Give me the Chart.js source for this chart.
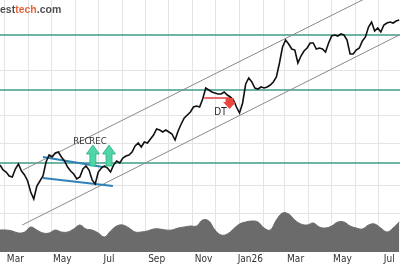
<!DOCTYPE html>
<html>
<head>
<meta charset="utf-8">
<script src="https://cdn.jsdelivr.net/npm/chart.js@4.4.1/dist/chart.umd.min.js"></script>
<style>
  html, body { margin: 0; padding: 0; background: #fff; }
  #wrap { width: 400px; height: 266px; }
</style>
</head>
<body>
<div id="wrap"><canvas id="chart"></canvas></div>
<script>
// kurs: ett punkt var 4:e dag fra seriesStart
const seriesStart = '2025-02-23';
const closeStep = 4;
const close = [
  63.5, 61, 60, 58, 57.5, 61.5, 64, 60.5, 58.5, 55.5,
  50, 46.5, 53, 55.5, 58, 65, 68.5, 67.5, 69.5, 70,
  67.5, 65.5, 62.5, 60.5, 59, 56.5, 57.5, 61.5, 63, 61,
  56, 54, 60, 62, 63, 62, 60, 63.5, 65.5, 64.5,
  67, 68, 68.5, 70, 73, 74.5, 72.5, 75, 74.5, 76.5,
  78.5, 81.5, 81, 80, 81, 80, 79, 76, 80.5, 84,
  87, 88.5, 90, 92.5, 93, 92.5, 96.5, 102, 101, 100,
  99.5, 99, 99, 100, 98.5, 97.5, 96, 92.5, 89.5, 94.5,
  104, 107, 105, 102, 101.5, 102.5, 102, 102.5, 103.5, 105,
  107.5, 114.5, 122.5, 126, 124, 121.5, 121, 114.5, 118, 120.5,
  122, 124.5, 124.5, 121.5, 122, 121.5, 120, 124.5, 128, 128.5,
  128, 129, 128.5, 126, 119, 119, 121, 122, 125.5, 127.5,
  132.5, 135, 130.5, 132, 130, 133.5, 134.5, 135, 134.5, 135.5,
  136
];

// volum (glattet), ett punkt var 8:e dag
const volStep = 8;
const volume = [
  220, 220, 210, 190, 200, 250, 220, 190, 190, 220,
  200, 200, 230, 270, 230, 220, 190, 150, 210, 260,
  270, 240, 200, 200, 210, 230, 230, 220, 220, 240,
  250, 260, 260, 320, 310, 220, 170, 180, 230, 280,
  300, 310, 300, 240, 220, 320, 390, 380, 320, 280,
  270, 290, 250, 240, 260, 300, 300, 260, 240, 230,
  270, 280, 240, 200, 240, 300
];

const tickMonths = ['2025-03', '2025-05', '2025-07', '2025-09', '2025-11', '2026-01', '2026-03', '2026-05', '2026-07'];
const tickLabels = ['Mar', 'May', 'Jul', 'Sep', 'Nov', 'Jan26', 'Mar', 'May', 'Jul'];
const gridPrices = [39.5, 53.5, 74.5, 88.5, 111];

// støtte / motstand
const levels = [128.5, 101, 64.5];

// trendkanal
const upperChannelDates = ['2025-03-25', '2026-07-28'];
const upperChannelPrices = [61, 155.25];
const lowerChannelDates = ['2025-03-24', '2026-07-28'];
const lowerChannelPrices = [33.5, 128.5];

// rektangel-formasjon
const rectTopDates = ['2025-04-20', '2025-07-07'];
const rectTopPrices = [67.5, 62.5];
const rectBottomDates = ['2025-04-20', '2025-07-20'];
const rectBottomPrices = [57, 53];

// signaler
const recDates = ['2025-06-24', '2025-07-15'];
const recPrices = [63, 63];
const dtLineDates = ['2025-11-16', '2025-12-21'];
const dtLinePrices = [97, 97];
const dtDate = '2025-12-19';
const dtPrice = 97;

const xMin = -6, xMax = 515;
const narrow = '"Liberation Sans Narrow", "DejaVu Sans Condensed", Arial, sans-serif';

function dayOf(s) {
  const p = s.split('-').map(Number);
  return (Date.UTC(p[0], p[1] - 1, p[2] || 1) - Date.UTC(2025, 2, 1)) / 86400000;
}

const start = dayOf(seriesStart);
const closePts = close.map((v, i) => ({ x: start + i * closeStep, y: v }));
const volPts = volume.map((v, i) => ({ x: start + i * volStep, y: v }));
const pairs = (d, p) => d.map((s, i) => ({ x: dayOf(s), y: p[i] }));

const monthStarts = [];
for (let m = 0; m < 18; m++) monthStarts.push((Date.UTC(2025, 2 + m, 1) - Date.UTC(2025, 2, 1)) / 86400000);
const labelDays = tickMonths.map(s => dayOf(s + '-15'));

const levelSets = levels.map(v => ({
  data: [{ x: xMin, y: v }, { x: xMax, y: v }],
  borderColor: '#3f9c89', borderWidth: 1.5, pointRadius: 0, order: 3
}));

const overlay = {
  id: 'overlay',
  afterDatasetsDraw(chart) {
    const { ctx, scales: { x, y } } = chart;
    ctx.save();
    // REC piler
    ctx.font = '9.5px ' + narrow;
    ctx.textAlign = 'center';
    ctx.textBaseline = 'middle';
    recDates.forEach((d, k) => {
      const px = x.getPixelForValue(dayOf(d)), py = y.getPixelForValue(recPrices[k]);
      ctx.beginPath();
      ctx.moveTo(px - 3, py);
      ctx.lineTo(px - 3, py - 12);
      ctx.lineTo(px - 6.5, py - 12);
      ctx.lineTo(px, py - 21);
      ctx.lineTo(px + 6.5, py - 12);
      ctx.lineTo(px + 3, py - 12);
      ctx.lineTo(px + 3, py);
      ctx.closePath();
      ctx.fillStyle = '#4fd6a6';
      ctx.fill();
      ctx.strokeStyle = '#2fae84';
      ctx.lineWidth = 0.8;
      ctx.stroke();
      ctx.fillStyle = '#333';
      ctx.fillText('REC', px - 11, py - 24);
    });
    // DT pil
    const dx = x.getPixelForValue(dayOf(dtDate)), dy = y.getPixelForValue(dtPrice);
    ctx.beginPath();
    ctx.moveTo(dx - 4, dy);
    ctx.lineTo(dx + 4, dy);
    ctx.lineTo(dx + 4, dy + 4);
    ctx.lineTo(dx + 6.5, dy + 4);
    ctx.lineTo(dx, dy + 11);
    ctx.lineTo(dx - 6.5, dy + 4);
    ctx.lineTo(dx - 4, dy + 4);
    ctx.closePath();
    ctx.fillStyle = '#e8483f';
    ctx.fill();
    ctx.fillStyle = '#222';
    ctx.font = '10px ' + narrow;
    ctx.fillText('DT', dx - 9, dy + 14);
    ctx.restore();
  },
  afterDraw(chart) {
    const ctx = chart.ctx;
    ctx.save();
    ctx.font = 'bold 10.5px "Liberation Sans", Arial, sans-serif';
    ctx.textBaseline = 'alphabetic';
    let px = 0;
    [['est', '#505050'], ['tech', '#e8643c'], ['.com', '#505050']].forEach(([t, c]) => {
      ctx.fillStyle = c;
      ctx.fillText(t, px, 13);
      px += ctx.measureText(t).width;
    });
    ctx.restore();
  }
};

new Chart(document.getElementById('chart'), {
  type: 'line',
  data: {
    datasets: [
      { data: closePts, borderColor: '#111', borderWidth: 1.6, pointRadius: 0, order: 0 },
      { data: pairs(rectTopDates, rectTopPrices), borderColor: '#2f82b8', borderWidth: 1.8, pointRadius: 0, order: 1 },
      { data: pairs(rectBottomDates, rectBottomPrices), borderColor: '#2f82b8', borderWidth: 1.8, pointRadius: 0, order: 1 },
      { data: pairs(dtLineDates, dtLinePrices), borderColor: '#ef6a6a', borderWidth: 2, pointRadius: 0, order: 1 },
      { data: pairs(upperChannelDates, upperChannelPrices), borderColor: '#8a8a8a', borderWidth: 1, pointRadius: 0, order: 2 },
      { data: pairs(lowerChannelDates, lowerChannelPrices), borderColor: '#8a8a8a', borderWidth: 1, pointRadius: 0, order: 2 },
      ...levelSets,
      { data: volPts, yAxisID: 'yv', borderColor: '#6b6b6b', backgroundColor: '#6b6b6b', borderWidth: 1,
        fill: 'origin', tension: 0.4, pointRadius: 0, order: 4 }
    ]
  },
  options: {
    responsive: true,
    maintainAspectRatio: false,
    animation: false,
    devicePixelRatio: 1,
    layout: { padding: 0 },
    plugins: { legend: { display: false }, tooltip: { enabled: false } },
    scales: {
      x: {
        type: 'linear', min: xMin, max: xMax, position: 'bottom',
        afterBuildTicks: s => { s.ticks = monthStarts.map(v => ({ value: v })); },
        afterFit: s => { s.height = 0; },
        ticks: { display: false },
        grid: { color: '#e4e4e4', drawTicks: false },
        border: { display: false }
      },
      xl: {
        type: 'linear', min: xMin, max: xMax, position: 'bottom',
        afterBuildTicks: s => { s.ticks = labelDays.map(v => ({ value: v })); },
        afterFit: s => { s.height = 14; },
        ticks: {
          autoSkip: false, maxRotation: 0, padding: 1, color: '#333',
          font: { family: narrow, size: 10 },
          callback: (v, i) => tickLabels[i]
        },
        grid: { display: false, drawTicks: false },
        border: { display: false }
      },
      y: {
        min: 20, max: 146,
        afterBuildTicks: s => { s.ticks = gridPrices.map(v => ({ value: v })); },
        afterFit: s => { s.width = 0; },
        ticks: { display: false },
        grid: { color: '#e4e4e4', drawTicks: false },
        border: { display: false }
      },
      yv: { display: false, min: 0, max: 2520 }
    }
  },
  plugins: [overlay]
});
</script>
</body>
</html>
